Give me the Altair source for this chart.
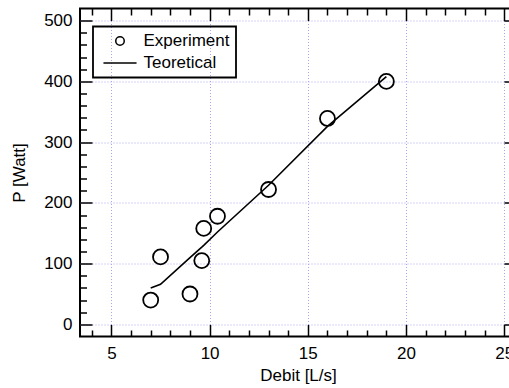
import altair as alt
import pandas as pd

# ---- data ----
exp_x = [7.0, 7.5, 9.0, 9.6, 9.7, 10.4, 13.0, 16.0, 19.0]
exp_y = [40, 111, 50, 105, 158, 178, 222, 339, 400]
theo_x = [7.0, 7.5, 9.0, 9.6, 9.7, 10.4, 13.0, 16.0, 19.0]
theo_y = [60, 66, 110, 127, 130, 152, 229, 326, 408]

x_major = [5, 10, 15, 20, 25]
x_minor = [4, 6, 7, 8, 9, 11, 12, 13, 14, 16, 17, 18, 19, 21, 22, 23, 24]
y_major = [0, 100, 200, 300, 400, 500]
y_minor = [20, 40, 60, 80, 120, 140, 160, 180, 220, 240, 260, 280,
           320, 340, 360, 380, 420, 440, 460, 480]

exp_df = pd.DataFrame({"x": exp_x, "y": exp_y, "series": ["Experiment"] * len(exp_x)})
theo_df = pd.DataFrame({"x": theo_x, "y": theo_y})

FONT = "Liberation Sans"
xs = alt.Scale(domain=[3.4, 25.6], nice=False, zero=False)
ys = alt.Scale(domain=[-20, 520], nice=False, zero=False)


def tick_axis(orient, values, length):
    return alt.Axis(orient=orient, values=values, offset=-length, tickSize=length,
                    tickColor="black", tickWidth=1.5, labels=False, domain=False,
                    grid=False, title=None)


points = alt.Chart(exp_df).mark_point(
    filled=False, color="black", size=225, strokeWidth=1.8, opacity=1
).encode(
    x=alt.X("x:Q", scale=xs, axis=alt.Axis(
        orient="bottom", values=x_major, ticks=False, domain=False,
        grid=True, gridColor="#a8a8ee", gridDash=[1, 2], gridWidth=1,
        labelFont=FONT, labelFontSize=17, labelColor="black", labelPadding=9,
        title="Debit [L/s]", titleFont=FONT, titleFontSize=17,
        titleFontWeight="normal", titleColor="black", titlePadding=6)),
    y=alt.Y("y:Q", scale=ys, axis=alt.Axis(
        orient="left", values=y_major, ticks=False, domain=False,
        grid=True, gridColor="#a8a8ee", gridDash=[1, 2], gridWidth=1,
        labelFont=FONT, labelFontSize=17, labelColor="black", labelPadding=8,
        title="P [Watt]", titleFont=FONT, titleFontSize=17,
        titleFontWeight="normal", titleColor="black", titlePadding=15)),
    shape=alt.Shape("series:N", scale=alt.Scale(
        domain=["Experiment", "Teoretical"], range=["circle", "M-3.9,0H3.9"]),
        legend=alt.Legend(
            title=None, orient="none", legendX=13, legendY=18,
            strokeColor="black", padding=6,
            symbolSize=72, symbolStrokeColor="black", symbolFillColor="transparent",
            symbolStrokeWidth=1.5, symbolOffset=12.5, labelOffset=15,
            labelFont=FONT, labelFontSize=17, labelColor="black", rowPadding=4)),
)

line = alt.Chart(theo_df).mark_line(color="black", strokeWidth=1.6).encode(
    x=alt.X("x:Q", scale=xs, axis=tick_axis("bottom", x_major, 12)),
    y=alt.Y("y:Q", scale=ys, axis=tick_axis("left", y_major, 12)),
)

minor_bl = alt.Chart(theo_df).mark_line(opacity=0).encode(
    x=alt.X("x:Q", scale=xs, axis=tick_axis("bottom", x_minor, 6.5)),
    y=alt.Y("y:Q", scale=ys, axis=tick_axis("left", y_minor, 6.5)),
)

major_tr = alt.Chart(theo_df).mark_line(opacity=0).encode(
    x=alt.X("x:Q", scale=xs, axis=tick_axis("top", x_major, 12)),
    y=alt.Y("y:Q", scale=ys, axis=tick_axis("right", y_major, 12)),
)

minor_tr = alt.Chart(theo_df).mark_line(opacity=0).encode(
    x=alt.X("x:Q", scale=xs, axis=tick_axis("top", x_minor, 6.5)),
    y=alt.Y("y:Q", scale=ys, axis=tick_axis("right", y_minor, 6.5)),
)

chart = alt.layer(points, line, minor_bl, major_tr, minor_tr).resolve_axis(
    x="independent", y="independent"
).properties(
    width=436, height=328,
    padding={"left": 80, "top": 8.5, "right": -7, "bottom": 51.5},
    autosize=alt.AutoSizeParams(type="none"),
    background="white",
).configure_view(
    stroke="black", strokeWidth=2
).configure_axis(
    titleFont=FONT, titleFontSize=17, titleFontWeight="normal", titleColor="black"
).configure_legend(
    strokeWidth=1.8
)

chart.save("out.html", embed_options={"renderer": "svg", "actions": False})
